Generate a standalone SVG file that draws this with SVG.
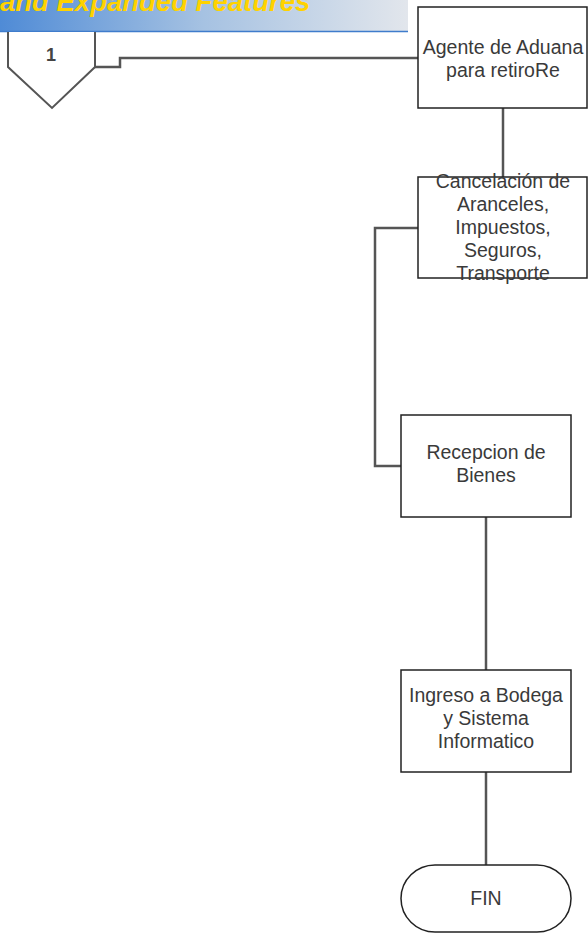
<svg xmlns="http://www.w3.org/2000/svg" width="588" height="934" viewBox="0 0 588 934">
<defs>
<linearGradient id="hdr" x1="0" y1="0" x2="1" y2="0">
<stop offset="0" stop-color="#4f8bd6"/>
<stop offset="0.5" stop-color="#a6c2e2"/>
<stop offset="1" stop-color="#e2e6ec"/>
</linearGradient>
<style>
.box{fill:#fff;stroke:#222;stroke-width:1.5}
.con{fill:none;stroke:#555;stroke-width:2.5}
.t{font-family:"Liberation Sans",Arial,sans-serif;font-size:19.5px;fill:#3a3a3a;text-anchor:middle}
</style>
</defs>
<rect id="banner" x="0" y="0" width="408" height="31" fill="url(#hdr)"/>
<line x1="0" y1="31.5" x2="408" y2="31.5" stroke="#3f7ccc" stroke-width="1.5"/>
<text x="0" y="11" font-family="Liberation Sans,Arial,sans-serif" font-size="27.5" font-weight="bold" font-style="italic" fill="#ffd200">and Expanded Features</text>
<g id="connectors">
<polyline class="con" points="95,67 120,67 120,58 418,58"/>
<line class="con" x1="503" y1="108" x2="503" y2="177"/>
<polyline class="con" points="418,228 375,228 375,466 401,466"/>
<line class="con" x1="486" y1="517" x2="486" y2="670"/>
<line class="con" x1="486" y1="772" x2="486" y2="865"/>
</g>
<g id="offpage1">
<polyline points="8,32 8,67 52,108 95,67 95,32" fill="#fff" stroke="#555" stroke-width="2"/>
<text class="t" x="51" y="61" style="font-size:18px;font-weight:bold;fill:#444">1</text>
</g>
<g id="agente">
<rect class="box" x="418" y="7" width="169" height="101"/>
<text class="t" x="503" y="54">Agente de Aduana</text>
<text class="t" x="503" y="77">para retiroRe</text>
</g>
<g id="cancelacion">
<rect class="box" x="418" y="177" width="169" height="101"/>
<text class="t" x="503" y="188">Cancelación de</text>
<text class="t" x="503" y="211">Aranceles,</text>
<text class="t" x="503" y="234">Impuestos,</text>
<text class="t" x="503" y="257">Seguros,</text>
<text class="t" x="503" y="280">Transporte</text>
</g>
<g id="recepcion">
<rect class="box" x="401" y="415" width="170" height="102"/>
<text class="t" x="486" y="459">Recepcion de</text>
<text class="t" x="486" y="482">Bienes</text>
</g>
<g id="ingreso">
<rect class="box" x="401" y="670" width="170" height="102"/>
<text class="t" x="486" y="702">Ingreso a Bodega</text>
<text class="t" x="486" y="725">y Sistema</text>
<text class="t" x="486" y="748">Informatico</text>
</g>
<g id="fin">
<rect class="box" x="401" y="865" width="170" height="67" rx="34" ry="34"/>
<text class="t" x="486" y="905">FIN</text>
</g>
</svg>
